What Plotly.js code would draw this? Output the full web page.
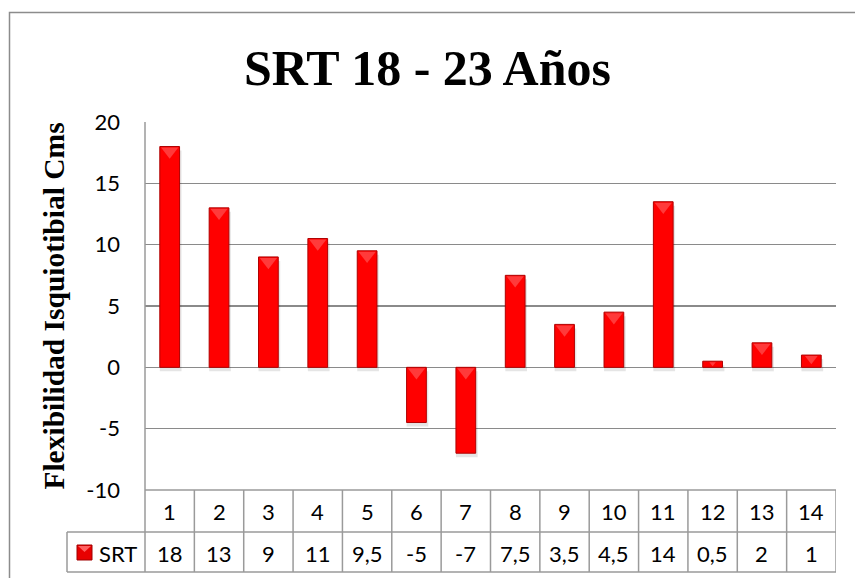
<!DOCTYPE html>
<html>
<head>
<meta charset="utf-8">
<script src="https://cdn.plot.ly/plotly-3.0.1.min.js"></script>
<style>html,body{margin:0;padding:0;background:#fff;}#chart{width:855px;height:578px;}</style>
</head>
<body>
<div id="chart"></div>
<script>
// ---- data ----
const categories = [1, 2, 3, 4, 5, 6, 7, 8, 9, 10, 11, 12, 13, 14];
const srtValues = [18, 13, 9, 10.5, 9.5, -4.5, -7, 7.5, 3.5, 4.5, 13.5, 0.5, 2, 1];
const tableLabels = ["18", "13", "9", "11", "9,5", "-5", "-7", "7,5", "3,5", "4,5", "14", "0,5", "2", "1"];
const seriesName = "SRT";
const yTicks = [-10, -5, 0, 5, 10, 15, 20];

// ---- layout helpers (pixel geometry) ----
const W = 855, H = 578;
const mL = 145, mR = 19, mT = 122, mB = 88;
const plotW = W - mL - mR, plotH = H - mT - mB;
const yRange = [-10, 20];
const px2x = p => (p - mL) / plotW;             // pixel x -> paper x
const px2y = p => (H - mB - p) / plotH;         // pixel y -> paper y
const pxPerUnit = plotH / (yRange[1] - yRange[0]);
const pxToYUnits = p => p / pxPerUnit;

const gridCol = '#8a8a8a';
const tableCol = '#9a9a9a';
const row1Bottom = px2y(532), row2Bottom = px2y(572);
const legendLeft = px2x(67);
const tableFont = {family:'Lato, Carlito, sans-serif', size:22, color:'#000'};

const shapes = [];
const annotations = [];

// outer chart border
shapes.push({type:'rect', xref:'paper', yref:'paper', x0:px2x(9.5), x1:px2x(870), y0:px2y(600), y1:px2y(12.5),
  line:{color:'#8c8c8c', width:1.5}, layer:'below'});

// y axis line extended down through table
shapes.push({type:'line', xref:'paper', yref:'paper', x0:0, x1:0, y0:row2Bottom, y1:1, line:{color:tableCol, width:1.5}});
// table horizontal lines
shapes.push({type:'line', xref:'paper', yref:'paper', x0:0, x1:1, y0:0, y1:0, line:{color:tableCol, width:1.5}});
shapes.push({type:'line', xref:'paper', yref:'paper', x0:legendLeft, x1:1, y0:row1Bottom, y1:row1Bottom, line:{color:tableCol, width:1.5}});
shapes.push({type:'line', xref:'paper', yref:'paper', x0:legendLeft, x1:1, y0:row2Bottom, y1:row2Bottom, line:{color:tableCol, width:1.5}});
shapes.push({type:'line', xref:'paper', yref:'paper', x0:legendLeft, x1:legendLeft, y0:row2Bottom, y1:row1Bottom, line:{color:tableCol, width:1.5}});
// column separators and table text
categories.forEach((c, i) => {
  shapes.push({type:'line', xref:'x', yref:'paper', x0:c + 0.5, x1:c + 0.5, y0:row2Bottom, y1:0, line:{color:tableCol, width:1.5}});
  annotations.push({xref:'x', yref:'paper', x:c, y:px2y(511), text:String(c), showarrow:false,
    xanchor:'center', yanchor:'middle', font:tableFont});
  annotations.push({xref:'x', yref:'paper', x:c, y:px2y(553), text:tableLabels[i], showarrow:false,
    xanchor:'center', yanchor:'middle', font:tableFont});
});
// legend key + label
shapes.push({type:'rect', xref:'paper', yref:'paper', x0:px2x(77), x1:px2x(92), y0:px2y(560), y1:px2y(545),
  fillcolor:'#e80000', line:{color:'#a00000', width:1}});
shapes.push({type:'path', xref:'paper', yref:'paper',
  path:`M ${px2x(78)},${px2y(546)} L ${px2x(91)},${px2y(546)} L ${px2x(84.5)},${px2y(552)} Z`,
  fillcolor:'#ff6060', line:{width:0}});
annotations.push({xref:'paper', yref:'paper', x:px2x(97), y:px2y(553), text:seriesName, showarrow:false,
  xanchor:'left', yanchor:'middle', font:tableFont});

// bevel highlight size scales with the rendered bar height (style only)
const bevelSize = srtValues.map(v => Math.min(15, 0.9 * Math.abs(v) * pxPerUnit));

const shadow = {
  type:'bar', x:categories, y:srtValues, width:0.44, offset:-0.2,
  base:srtValues.map(() => -pxToYUnits(4)),
  marker:{color:'rgba(0,0,0,0.10)', line:{width:0}}, hoverinfo:'skip', showlegend:false
};
const bars = {
  type:'bar', x:categories, y:srtValues, name:seriesName, width:0.4,
  marker:{color:'#ff0000', line:{color:'#b00000', width:1}},
  hoverinfo:'x+y'
};
const bevel = {
  type:'scatter', mode:'markers', x:categories,
  y:srtValues.map((v, i) => Math.max(v, 0) - pxToYUnits(bevelSize[i] / 4 + 1)),
  marker:{symbol:'triangle-down', size:bevelSize, color:'rgba(255,110,110,0.75)', line:{width:0}},
  hoverinfo:'skip', showlegend:false, cliponaxis:false
};

const layout = {
  width:W, height:H,
  margin:{l:mL, r:mR, t:mT, b:mB, pad:0},
  paper_bgcolor:'#fff', plot_bgcolor:'#fff',
  showlegend:false,
  barmode:'overlay',
  title:{text:'<b>SRT 18 - 23 Años</b>', x:0.5, xanchor:'center', y:1 - 67/H, yanchor:'middle',
    font:{family:'"Liberation Serif", "Times New Roman", serif', size:50, color:'#000'}},
  xaxis:{range:[0.5, 14.5], showticklabels:false, showgrid:false, zeroline:false, showline:false, ticks:'', fixedrange:true},
  yaxis:{range:yRange, tickvals:yTicks, ticktext:yTicks.map(String), showgrid:true, gridcolor:gridCol, gridwidth:1.5,
    zeroline:true, zerolinecolor:gridCol, zerolinewidth:1.5, showline:false, ticks:'', ticklabelstandoff:24,
    tickfont:{family:'Lato, Carlito, sans-serif', size:22, color:'#000'},
    title:{text:'<b>Flexibilidad Isquiotibial Cms</b>', standoff:12,
      font:{family:'"Liberation Serif", "Times New Roman", serif', size:29.5, color:'#000'}}},
  shapes:shapes,
  annotations:annotations
};

Plotly.newPlot('chart', [shadow, bars, bevel], layout, {displayModeBar:false, staticPlot:true});
</script>
</body>
</html>
